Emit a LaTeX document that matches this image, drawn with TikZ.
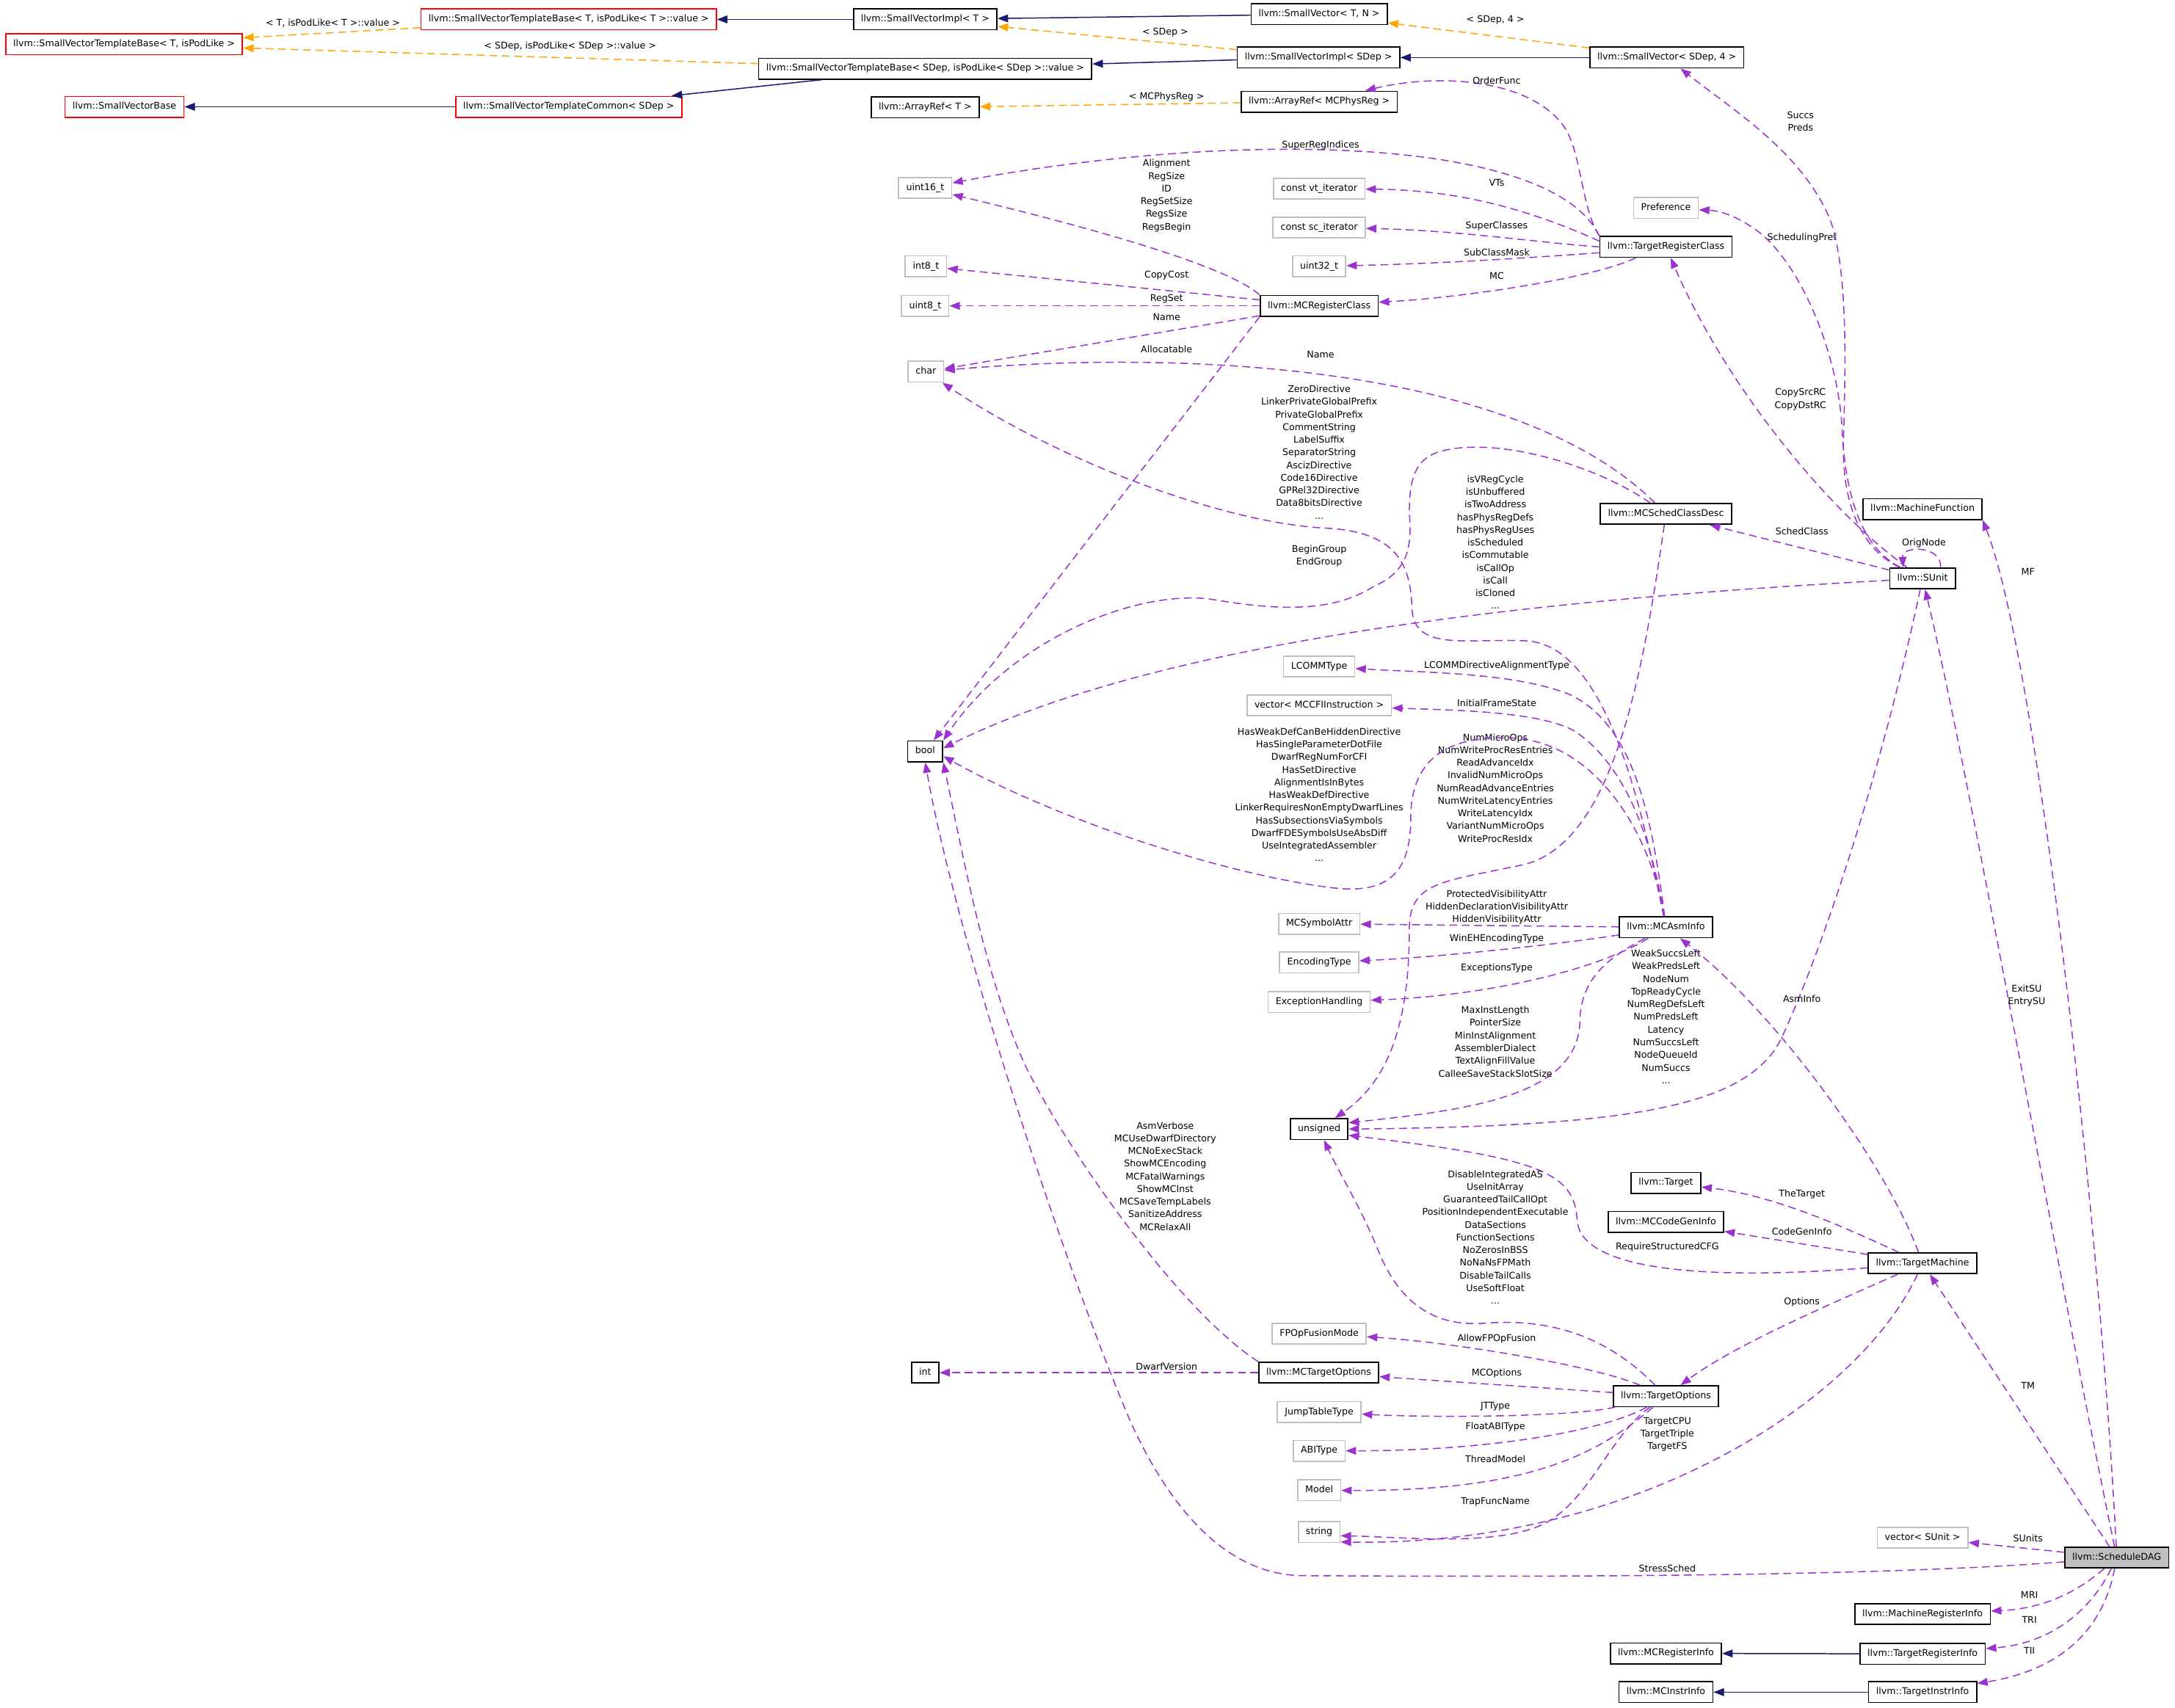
\documentclass[tikz,border=0pt]{standalone}
\usepackage{fontspec}
\setmainfont{DejaVu Sans}
\usepackage{tikz}
\usetikzlibrary{arrows.meta,calc}

\definecolor{usecol}{HTML}{9A32CD}
\definecolor{tplcol}{HTML}{FFA500}
\definecolor{inhcol}{HTML}{191970}
\definecolor{undoccol}{HTML}{BFBFBF}

\tikzset{
  cls/.style={draw=black,fill=white,line width=0.5pt,minimum height=0.3cm,
    inner xsep=3.1pt,inner ysep=0pt,text height=2.9pt,text depth=0.9pt,
    font=\fontsize{3.8}{4.6}\selectfont},
  undoc/.style={cls,draw=undoccol},
  tplbox/.style={cls,draw=red},
  mainbox/.style={cls,fill=undoccol},
  use/.style={->,usecol,line width=0.45pt,dash pattern=on 3.2pt off 1.9pt},
  tpl/.style={->,tplcol,line width=0.45pt,dash pattern=on 3.2pt off 1.9pt},
  inh/.style={->,inhcol,line width=0.45pt},
  lbl/.style={text=black,inner sep=0pt,align=center,font=\fontsize{3.8}{5.2}\selectfont}
}

\begin{document}
\begin{tikzpicture}[x=0.02cm,y=-0.02cm,>={Triangle[length=4.3pt,width=3.2pt]}]
  \useasboundingbox (0,0) rectangle (1568,1231);

  % top rows
  \node[tplbox] (svtbpod) at (89.5,32) {llvm::SmallVectorTemplateBase< T, isPodLike >};
  \node[tplbox] (svtbt) at (410,14) {llvm::SmallVectorTemplateBase< T, isPodLike< T >::value >};
  \node[cls] (svimplt) at (667,14) {llvm::SmallVectorImpl< T >};
  \node[cls] (svtn) at (951,10.3) {llvm::SmallVector< T, N >};
  \node[cls] (svtbsdep) at (667,49.5) {llvm::SmallVectorTemplateBase< SDep, isPodLike< SDep >::value >};
  \node[cls] (svimplsdep) at (950.5,41.5) {llvm::SmallVectorImpl< SDep >};
  \node[cls] (svsdep) at (1201.6,41.5) {llvm::SmallVector< SDep, 4 >};
  \node[tplbox] (svbase) at (89.7,77) {llvm::SmallVectorBase};
  \node[tplbox] (svcommon) at (410,77) {llvm::SmallVectorTemplateCommon< SDep >};
  \node[cls] (areft) at (667,77.5) {llvm::ArrayRef< T >};
  \node[cls] (arefmc) at (951,73.3) {llvm::ArrayRef< MCPhysReg >};

  % plain types
  \node[undoc] (uint16) at (667,135.5) {uint16\_t};
  \node[undoc] (int8) at (667.5,192) {int8\_t};
  \node[undoc] (uint8) at (667,220.5) {uint8\_t};
  \node[undoc] (chr) at (667.5,268) {char};
  \node[cls] (bool) at (667,541.7) {bool};
  \node[cls] (intn) at (667,989.6) {int};
  \foreach \n/\y/\t in {vtiter/136/const vt\_iterator,sciter/164/const sc\_iterator,
      uint32/192/uint32\_t,lcomm/480.5/LCOMMType,cfivec/508.6/vector< MCCFIInstruction >,
      symattr/666/MCSymbolAttr,enctype/694/EncodingType,exch/722.5/ExceptionHandling,
      fpop/961.5/FPOpFusionMode,jtt/1018/JumpTableType,abi/1046/ABIType,
      model/1074.5/Model,str/1104.5/string}
    \node[undoc] (\n) at (951,\y) {\t};
  \node[cls] (mcregclass) at (951,220.5) {llvm::MCRegisterClass};
  \node[cls] (uns) at (951,814) {unsigned};
  \node[cls] (mcopts) at (950.7,989.6) {llvm::MCTargetOptions};

  \node[undoc] (pref) at (1201,150) {Preference};
  \node[cls] (tregclass) at (1201,178) {llvm::TargetRegisterClass};
  \node[cls] (schedcls) at (1201,370.5) {llvm::MCSchedClassDesc};
  \node[cls] (asminfo) at (1201,668.6) {llvm::MCAsmInfo};
  \node[cls] (target) at (1201,852.8) {llvm::Target};
  \node[cls] (cgi) at (1201,881) {llvm::MCCodeGenInfo};
  \node[cls] (topts) at (1201,1006.6) {llvm::TargetOptions};
  \node[cls] (mcri) at (1201,1192) {llvm::MCRegisterInfo};
  \node[cls] (mcii) at (1201,1220) {llvm::MCInstrInfo};

  \node[cls] (mfunc) at (1386,367) {llvm::MachineFunction};
  \node[cls] (sunit) at (1386,417) {llvm::SUnit};
  \node[cls] (tm) at (1386,910.8) {llvm::TargetMachine};
  \node[undoc] (suvec) at (1386,1108.7) {vector< SUnit >};
  \node[cls] (mri) at (1386,1163.6) {llvm::MachineRegisterInfo};
  \node[cls] (tri) at (1386,1192.4) {llvm::TargetRegisterInfo};
  \node[cls] (tii) at (1386,1220) {llvm::TargetInstrInfo};
  \node[mainbox] (sdag) at (1526,1123) {llvm::ScheduleDAG};

  % inheritance
  \draw[inh] (svimplt) -- (svtbt);
  \draw[inh] (svtn) -- (svimplt);
  \draw[inh] (svimplsdep) -- (svtbsdep);
  \draw[inh] (svsdep) -- (svimplsdep);
  \draw[inh] (svtbsdep) -- (svcommon);
  \draw[inh] (svcommon) -- (svbase);
  \draw[inh] (tri) -- (mcri);
  \draw[inh] (tii) -- (mcii);

  % template instances
  \draw[tpl] (svtbt) -- (svtbpod) node[lbl] at (240,16.4) {< T, isPodLike< T >::value >};
  \draw[tpl] (svtbsdep) -- (svtbpod) node[lbl] at (411,33.5) {< SDep, isPodLike< SDep >::value >};
  \draw[tpl] (svimplsdep) -- (svimplt) node[lbl] at (840,23.5) {< SDep >};
  \draw[tpl] (svsdep) -- (svtn) node[lbl] at (1078,14.6) {< SDep, 4 >};
  \draw[tpl] (arefmc) -- (areft) node[lbl] at (841,70) {< MCPhysReg >};

  % TargetRegisterClass
  \draw[use] (tregclass.north west) .. controls (1140,150) and (1140,110) .. (1128,92)
    .. controls (1105,58) and (1040,52) .. (arefmc) node[lbl] at (1079,58) {OrderFunc};
  \draw[use] (tregclass.north west) .. controls (1120,100) and (900,92) .. (uint16)
    node[lbl] at (952,105) {SuperRegIndices};
  \draw[use] (tregclass.175) .. controls (1100,150) and (1050,137) .. (vtiter)
    node[lbl] at (1079,132) {VTs};
  \draw[use] (tregclass.west) .. controls (1110,175) and (1050,166) .. (sciter)
    node[lbl] at (1079,163) {SuperClasses};
  \draw[use] (tregclass.185) .. controls (1100,186) and (1040,190) .. (uint32)
    node[lbl] at (1079,182) {SubClassMask};
  \draw[use] (tregclass.200) .. controls (1150,200) and (1060,214) .. (mcregclass)
    node[lbl] at (1079,199) {MC};

  % MCRegisterClass
  \draw[use] (mcregclass.north west) .. controls (885,192) and (790,165) .. (uint16)
    node[lbl] at (841,141) {Alignment\\RegSize\\ID\\RegSetSize\\RegsSize\\RegsBegin};
  \draw[use] (mcregclass) -- (int8) node[lbl] at (841,198.4) {CopyCost};
  \draw[use] (mcregclass) -- (uint8) node[lbl] at (841,215.7) {RegSet};
  \draw[use] (mcregclass) -- (chr) node[lbl] at (841,228.4) {Name};
  \draw[use] (mcregclass.south west) -- (bool) node[lbl] at (841,251.7) {Allocatable};

  % MCSchedClassDesc
  \draw[use] (schedcls) .. controls (1100,270) and (880,250) .. (chr) node[lbl] at (952,255.4) {Name};
  \draw[use] (schedcls) .. controls (1150,335) and (1080,315) .. (1040,325)
    .. controls (1020,330) and (1016,345) .. (1016,370)
    .. controls (1018,395) and (1015,412) .. (990,423)
    .. controls (960,442) and (920,440) .. (873,432)
    .. controls (820,425) and (730,460) .. (bool.north east)
    node[lbl] at (951,401) {BeginGroup\\EndGroup};
  \draw[use] (schedcls) .. controls (1185,480) and (1165,605) .. (1100,623)
    .. controls (1040,636) and (1016,635) .. (1016,670)
    .. controls (1016,740) and (1000,780) .. (uns)
    node[lbl] at (1078,568) {NumMicroOps\\NumWriteProcResEntries\\ReadAdvanceIdx\\InvalidNumMicroOps\\NumReadAdvanceEntries\\NumWriteLatencyEntries\\WriteLatencyIdx\\VariantNumMicroOps\\WriteProcResIdx};

  % MCAsmInfo
  \draw[use] (asminfo) .. controls (1185,590) and (1160,465) .. (1100,462)
    .. controls (1060,460) and (1020,470) .. (1018,440)
    .. controls (1017,410) and (1010,385) .. (960,381)
    .. controls (880,378) and (760,330) .. (chr)
    node[lbl] at (951,326) {ZeroDirective\\LinkerPrivateGlobalPrefix\\PrivateGlobalPrefix\\CommentString\\LabelSuffix\\SeparatorString\\AscizDirective\\Code16Directive\\GPRel32Directive\\Data8bitsDirective\\...};
  \draw[use] (asminfo) .. controls (1190,600) and (1150,535) .. (1090,532)
    .. controls (1040,530) and (1017,550) .. (1017,590)
    .. controls (1017,630) and (1000,645) .. (960,640)
    .. controls (880,630) and (760,590) .. (bool.-15)
    node[lbl] at (951,573) {HasWeakDefCanBeHiddenDirective\\HasSingleParameterDotFile\\DwarfRegNumForCFI\\HasSetDirective\\AlignmentIsInBytes\\HasWeakDefDirective\\LinkerRequiresNonEmptyDwarfLines\\HasSubsectionsViaSymbols\\DwarfFDESymbolsUseAbsDiff\\UseIntegratedAssembler\\...};
  \draw[use] (asminfo) .. controls (1190,580) and (1175,520) .. (1130,500)
    .. controls (1090,485) and (1030,485) .. (lcomm) node[lbl] at (1079,480) {LCOMMDirectiveAlignmentType};
  \draw[use] (asminfo) .. controls (1190,600) and (1170,550) .. (1135,527)
    .. controls (1110,513) and (1050,512) .. (cfivec) node[lbl] at (1079,507) {InitialFrameState};
  \draw[use] (asminfo) -- (symattr)
    node[lbl] at (1079,654) {ProtectedVisibilityAttr\\HiddenDeclarationVisibilityAttr\\HiddenVisibilityAttr};
  \draw[use] (asminfo) .. controls (1130,680) and (1040,690) .. (enctype) node[lbl] at (1079,677) {WinEHEncodingType};
  \draw[use] (asminfo) .. controls (1150,700) and (1070,718) .. (exch) node[lbl] at (1079,698) {ExceptionsType};
  \draw[use] (asminfo) .. controls (1160,690) and (1140,705) .. (1139,735)
    .. controls (1139,790) and (1060,800) .. (uns.12)
    node[lbl] at (1078,751) {MaxInstLength\\PointerSize\\MinInstAlignment\\AssemblerDialect\\TextAlignFillValue\\CalleeSaveStackSlotSize};

  % SUnit
  \draw[use] (sunit) .. controls (1150,430) and (850,455) .. (bool.10)
    node[lbl] at (1078,391) {isVRegCycle\\isUnbuffered\\isTwoAddress\\hasPhysRegDefs\\hasPhysRegUses\\isScheduled\\isCommutable\\isCallOp\\isCall\\isCloned\\...};
  \draw[use] (sunit) .. controls (1360,540) and (1320,670) .. (1285,747)
    .. controls (1262,797) and (1180,812) .. (uns.east)
    node[lbl] at (1201,733) {WeakSuccsLeft\\WeakPredsLeft\\NodeNum\\TopReadyCycle\\NumRegDefsLeft\\NumPredsLeft\\Latency\\NumSuccsLeft\\NodeQueueId\\NumSuccs\\...};
  \draw[use] ($(sunit.north)+(13,0)$) .. controls +(1,-16) and +(-1,-16) .. ($(sunit.north)+(-14,0)$)
    node[lbl] at (1387,391.5) {OrigNode};
  \draw[use] (sunit) -- (schedcls) node[lbl] at (1299,383) {SchedClass};
  \draw[use] (sunit) .. controls (1320,370) and (1245,280) .. (tregclass)
    node[lbl] at (1298,288) {CopySrcRC\\CopyDstRC};
  \draw[use] (sunit) .. controls (1348,398) and (1331,370) .. (1328,310)
    .. controls (1326,260) and (1300,190) .. (1265,165)
    .. controls (1250,155) and (1240,152) .. (pref) node[lbl] at (1299,171.5) {SchedulingPref};
  \draw[use] (sunit) .. controls (1340,395) and (1328,360) .. (1329,320)
    .. controls (1330,270) and (1333,200) .. (1320,160)
    .. controls (1300,110) and (1250,80) .. (svsdep) node[lbl] at (1298,87.5) {Succs\\Preds};

  % TargetMachine
  \draw[use] (tm) .. controls (1360,840) and (1280,730) .. (asminfo) node[lbl] at (1299,720) {AsmInfo};
  \draw[use] (tm) .. controls (1330,885) and (1280,862) .. (target) node[lbl] at (1299,861) {TheTarget};
  \draw[use] (tm) -- (cgi) node[lbl] at (1299,888) {CodeGenInfo};
  \draw[use] (tm) .. controls (1250,922) and (1140,920) .. (1137,880)
    .. controls (1135,845) and (1110,835) .. (uns.-12) node[lbl] at (1202,899) {RequireStructuredCFG};
  \draw[use] (tm) .. controls (1320,940) and (1250,970) .. (topts) node[lbl] at (1299,939) {Options};
  \draw[use] (tm) .. controls (1340,1010) and (1180,1115) .. (str.-25)
    node[lbl] at (1202,1034) {TargetCPU\\TargetTriple\\TargetFS};

  % TargetOptions
  \draw[use] (topts) .. controls (1160,965) and (1120,950) .. (1070,954)
    .. controls (1030,957) and (1008,935) .. (995,905)
    .. controls (982,872) and (965,845) .. (uns)
    node[lbl] at (1078,892) {DisableIntegratedAS\\UseInitArray\\GuaranteedTailCallOpt\\PositionIndependentExecutable\\DataSections\\FunctionSections\\NoZerosInBSS\\NoNaNsFPMath\\DisableTailCalls\\UseSoftFloat\\...};
  \draw[use] (topts) .. controls (1150,985) and (1050,968) .. (fpop) node[lbl] at (1079,965) {AllowFPOpFusion};
  \draw[use] (topts) -- (mcopts) node[lbl] at (1079,990) {MCOptions};
  \draw[use] (topts) .. controls (1130,1022) and (1030,1022) .. (jtt) node[lbl] at (1078,1014) {JTType};
  \draw[use] (topts) .. controls (1160,1030) and (1080,1046) .. (abi) node[lbl] at (1078,1029) {FloatABIType};
  \draw[use] (topts) .. controls (1150,1050) and (1100,1075) .. (model) node[lbl] at (1078,1052) {ThreadModel};
  \draw[use] (topts) .. controls (1160,1035) and (1145,1085) .. (1110,1100)
    .. controls (1075,1115) and (1010,1108) .. (str.-10) node[lbl] at (1078,1083) {TrapFuncName};

  % MCTargetOptions
  \draw[use] (mcopts.north west) .. controls (850,945) and (770,830) .. (740,770)
    .. controls (710,705) and (695,620) .. (bool.south east)
    node[lbl] at (840,848) {AsmVerbose\\MCUseDwarfDirectory\\MCNoExecStack\\ShowMCEncoding\\MCFatalWarnings\\ShowMCInst\\MCSaveTempLabels\\SanitizeAddress\\MCRelaxAll};
  \draw[use] (mcopts) -- (intn) node[lbl] at (841,985) {DwarfVersion};

  % ScheduleDAG
  \draw[use] (sdag) .. controls (1480,900) and (1420,560) .. (sunit) node[lbl] at (1461,718) {ExitSU\\EntrySU};
  \draw[use] (sdag) .. controls (1515,900) and (1470,480) .. (mfunc.south east) node[lbl] at (1462,412) {MF};
  \draw[use] (sdag) -- (tm) node[lbl] at (1462,999) {TM};
  \draw[use] (sdag) -- (suvec) node[lbl] at (1462,1109) {SUnits};
  \draw[use] (sdag) .. controls (1350,1137) and (1100,1137) .. (940,1136)
    .. controls (880,1136) and (840,1080) .. (815,1025)
    .. controls (770,920) and (690,680) .. (bool.south) node[lbl] at (1202,1131) {StressSched};
  \draw[use] (sdag) .. controls (1495,1150) and (1470,1160) .. (mri) node[lbl] at (1463,1150) {MRI};
  \draw[use] (sdag) .. controls (1505,1165) and (1475,1185) .. (tri) node[lbl] at (1463,1168) {TRI};
  \draw[use] (sdag) .. controls (1515,1180) and (1480,1205) .. (tii) node[lbl] at (1463,1190) {TII};
\end{tikzpicture}
\end{document}
